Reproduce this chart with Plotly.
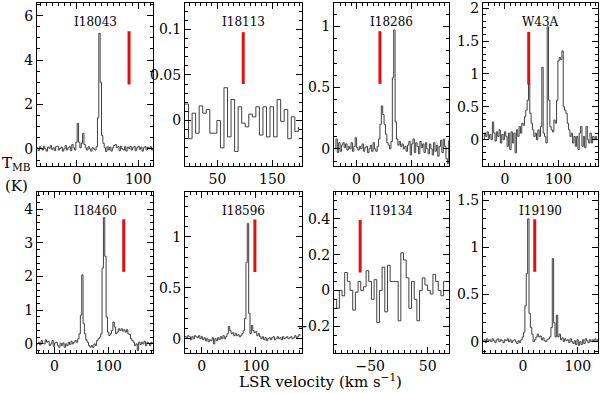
import plotly.graph_objects as go

W, H = 600, 393

names = ["I18043", "I18113", "I18286", "W43A", "I18460", "I18596", "I19134", "I19190"]

# channel grid (start velocity, channel width) per source
v_start = [-65.5, -9, -40, -41, -32, -31, -113, -74]
v_step = [2.2, 6.45, 2.5, 2.5, 2.5, 2.5, 4.65, 2.5]

t_i18043 = [0.05, -0.08, 0.1, 0.02, -0.05, 0.12, 0.0, -0.1, 0.08, 0.03, 0.15, -0.02, 0.05, -0.08, 0.1,
            0.12, -0.05, 0.02, 0.08, -0.1, 0.0, 0.15, -0.05, 0.05, 0.1, -0.08, 0.2, 0.05, -0.05,
            0.3, 1.15, 0.3, 0.05, 0.25, 0.7, 0.2, 0.05, -0.05, 0.1, 0.0, -0.1, 0.05, 0.0, -0.05, 0.1,
            1.4, 5.2, 3.0, 0.6, 0.25, 0.05, -0.12, 0.1, -0.05, 0.08, -0.1, 0.05, 0.15, 0.2, 0.05, 0.1,
            -0.08, 0.12, 0.0, -0.05, 0.1, -0.1, 0.08, 0.02, 0.12, -0.05, 0.05, 0.1, -0.08, 0.05, 0.12,
            -0.02, 0.08, -0.1, 0.05, 0.1, -0.05, 0.08, 0.0, 0.1, -0.05, 0.05]
t_i18113 = [0.018, -0.02, 0.008, -0.014, 0.016, 0.008, 0.012, -0.014, -0.014, 0.0, -0.03, 0.036,
            -0.018, 0.023, -0.034, 0.015, -0.003, -0.007, 0.007, 0.004, 0.015, -0.016, 0.015, -0.018,
            0.015, -0.018, 0.023, -0.001, 0.012, -0.02, 0.004, -0.012, -0.007]
t_i18286 = [0.0, 0.08, -0.03, 0.05, -0.02, 0.03, 0.05, 0.01, 0.04, -0.01, 0.02, 0.0, 0.05, -0.02, 0.02,
            0.09, 0.01, -0.01, 0.02, 0.0, 0.04, -0.02, 0.01, 0.02, -0.03, 0.0, 0.03, -0.02, 0.05, 0.0,
            -0.02, 0.02, 0.08, 0.2, 0.35, 0.28, 0.2, 0.12, 0.05, 0.03, 0.0, 0.06, 0.58, 0.97, 0.22, 0.08,
            0.03, 0.06, 0.02, 0.04, 0.0, 0.02, -0.02, 0.03, 0.06, -0.05, 0.04, 0.08, -0.03, 0.05, 0.02,
            -0.04, 0.06, 0.01, 0.04, -0.03, 0.05, 0.0, -0.04, 0.04, 0.0, -0.05, 0.05, -0.02, 0.03, -0.06,
            0.02, 0.07, -0.03, 0.08, 0.02, -0.08, -0.12, 0.07]
t_w43a = [0.0, 0.1, 0.05, 0.12, 0.02, 0.08, 0.0, 0.27, 0.1, -0.02, 0.12, 0.05, 0.15, -0.05, 0.08, 0.0,
          0.12, 0.05, -0.1, 0.1, -0.15, 0.12, -0.05, 0.1, -0.2, 0.15, 0.05, 0.2, 0.1, 0.25, 0.22, 0.35,
          0.45, 0.6, 0.85, 0.4, 0.25, 0.15, 0.05, 0.1, 0.0, 0.15, 0.05, 0.2, 1.1, 0.1, 0.05, -0.05, 1.72,
          0.6, 0.2, 0.15, 0.12, 0.3, 0.25, 0.6, 1.2, 1.25, 1.22, 1.35, 0.5, 0.45, 0.4, 0.25, 0.15, 0.05,
          0.1, -0.05, 0.05, -0.1, 0.05, -0.15, 0.1, 0.2, -0.1, 0.05, -0.12, 0.2, 0.0, -0.05, 0.1, -0.05,
          0.05, 0.0, 0.05, 0.0]
t_i18460 = [0.0, 0.05, -0.03, 0.1, 0.02, 0.0, 0.12, 0.05, 0.08, -0.05, 0.0, 0.1, -0.08, 0.03, 0.05,
            -0.05, -0.1, 0.02, -0.05, 0.03, -0.1, 0.0, -0.05, 0.05, -0.02, 0.08, 0.0, 0.05, 0.1, 0.05,
            0.15, 0.3, 0.85, 2.05, 0.6, 0.3, 0.12, 0.05, -0.05, -0.1, -0.05, -0.1, 0.0, -0.05, 0.1, 0.15,
            0.2, 0.3, 2.25, 3.75, 2.6, 0.8, 0.35, 0.25, 0.3, 0.4, 0.65, 0.5, 0.3, 0.35, 0.45, 0.4, 0.45,
            0.38, 0.42, 0.35, 0.42, 0.3, 0.28, 0.15, 0.1, 0.05, -0.05, 0.0, -0.2, 0.05, -0.02, 0.05, 0.0,
            0.08, -0.05, 0.05, 0.02, -0.05, 0.05, 0.0]
t_i18596 = [0.02, 0.0, 0.03, 0.02, -0.01, 0.02, 0.0, 0.03, 0.02, 0.01, 0.03, 0.0, 0.02, -0.01, 0.01,
            -0.02, 0.0, -0.03, -0.01, -0.02, 0.01, -0.05, 0.0, -0.02, 0.01, -0.01, 0.02, 0.0, 0.03, 0.0,
            0.02, 0.05, 0.12, 0.08, 0.05, 0.06, 0.03, 0.05, 0.03, 0.04, 0.02, 0.03, 0.05, 0.08, 0.2, 0.75,
            1.13, 0.25, 0.05, 0.13, 0.08, 0.06, 0.07, 0.03, 0.05, 0.02, 0.0, 0.02, -0.01, 0.01, -0.02,
            0.0, 0.01, -0.01, 0.01, 0.02, -0.01, 0.0, 0.02, 0.0, 0.01, -0.01, 0.02, 0.0, 0.01, 0.02, 0.0,
            0.01, 0.02, 0.0, 0.01, 0.03, 0.01, 0.02, 0.04, 0.03]
t_i19134 = [-0.05, -0.1, 0.0, -0.03, 0.1, 0.05, 0.0, -0.11, -0.01, 0.05, 0.0, 0.02, 0.11, 0.05, -0.05,
            0.06, -0.18, 0.0, 0.13, -0.12, 0.14, 0.05, 0.05, 0.05, -0.17, 0.21, 0.17, 0.07, -0.1, 0.05,
            -0.05, -0.17, 0.0, 0.07, 0.03, 0.0, -0.02, 0.09, 0.05, 0.0, -0.03, 0.05, 0.05]
t_i19190 = [0.0, 0.02, -0.01, 0.03, 0.01, 0.02, 0.0, 0.03, 0.01, -0.01, 0.02, 0.03, 0.0, 0.02, 0.01,
            -0.01, 0.02, 0.01, 0.03, 0.0, 0.02, -0.01, 0.01, 0.02, 0.0, -0.02, 0.01, -0.01, 0.02, 0.05,
            0.1, 0.38, 0.72, 1.3, 0.3, 0.15, 0.08, 0.0, 0.02, 0.05, 0.08, 0.05, 0.06, 0.02, 0.04, 0.01,
            0.0, 0.02, 0.03, 0.05, 0.15, 0.88, 0.2, 0.05, 0.28, 0.05, 0.08, 0.02, 0.04, 0.0, 0.03, 0.01,
            0.02, -0.01, 0.03, 0.0, -0.02, 0.01, -0.03, 0.02, -0.04, 0.0, -0.03, 0.02, -0.02, 0.03, 0.01,
            -0.01, 0.02, 0.0, 0.02, 0.01, 0.03, 0.0, 0.02, 0.01]
spectra = [t_i18043, t_i18113, t_i18286, t_w43a, t_i18460, t_i18596, t_i19134, t_i19190]

# red markers: velocity and vertical extent
red_v = [85, 97, 42.5, 44.5, 128, 98, -67.5, 21.5]
red_lo = [2.9, 0.04, 0.53, 0.84, 2.14, 0.655, 0.10, 0.74]
red_hi = [5.3, 0.097, 0.96, 1.64, 3.70, 1.17, 0.394, 1.296]

# axis settings
x_ranges = [[-65, 124], [-9, 204], [-41, 168], [-41, 174], [-32, 182], [-31, 185], [-113, 87], [-73, 137]]
x_labels = [[0, 100], [50, 150], [0, 100], [0, 100], [0, 100], [0, 100], [-50, 50], [0, 100]]
x_label_text = [["0", "100"], ["50", "150"], ["0", "100"], ["0", "100"], ["0", "100"], ["0", "100"],
                ["\u221250", "50"], ["0", "100"]]
y_ranges = [[-0.77, 6.57], [-0.05, 0.129], [-0.14, 1.19], [-0.4, 2.08],
            [-0.27, 4.51], [-0.14, 1.44], [-0.35, 0.55], [-0.12, 1.585]]
y_labels = [[0, 2, 4, 6], [0, 0.05, 0.1], [0, 0.5, 1], [0, 0.5, 1, 1.5, 2],
            [0, 1, 2, 3, 4], [0, 0.5, 1], [-0.2, 0, 0.2, 0.4], [0, 0.5, 1, 1.5]]
y_label_text = [["0", "2", "4", "6"], ["0", "0.05", "0.1"], ["0", "0.5", "1"],
                ["0", "0.5", "1", "1.5", "2"], ["0", "1", "2", "3", "4"], ["0", "0.5", "1"],
                ["\u22120.2", "0", "0.2", "0.4"], ["0", "0.5", "1", "1.5"]]
y_minor = [0.5, 0.01, 0.1, 0.1, 0.2, 0.1, 0.05, 0.1]

# pixel layout of the panels
col_px = [(37, 153), (185, 302), (334, 449), (483, 598)]
row_px = [(3, 166), (192, 353)]

FONT = "DejaVu Serif"
LINE = "#404040"

fig = go.Figure()
layout = dict(width=W, height=H, margin=dict(l=0, r=0, t=0, b=0),
              paper_bgcolor="white", plot_bgcolor="white", showlegend=False,
              font=dict(family=FONT, size=12, color="black"))
annotations = []

for k in range(8):
    r, c = divmod(k, 4)
    n = "" if k == 0 else str(k + 1)
    x0, x1 = col_px[c]
    yt, yb = row_px[r]
    xd = [x0 / W, x1 / W]
    yd = [1 - yb / H, 1 - yt / H]
    vals = spectra[k]
    vel = [v_start[k] + v_step[k] * i for i in range(len(vals))]
    fig.add_trace(go.Scatter(x=vel, y=vals, mode="lines", line=dict(color=LINE, width=1, shape="hv"),
                             xaxis="x" + n, yaxis="y" + n, hoverinfo="skip"))
    fig.add_trace(go.Scatter(x=[red_v[k], red_v[k]], y=[red_lo[k], red_hi[k]], mode="lines",
                             line=dict(color="#e01010", width=3), xaxis="x" + n, yaxis="y" + n,
                             hoverinfo="skip"))
    layout["xaxis" + n] = dict(domain=xd, anchor="y" + n, range=x_ranges[k], showgrid=False,
                               zeroline=False, showline=True, linecolor="black", linewidth=1,
                               mirror="allticks", ticks="inside", ticklen=6, tickcolor="black",
                               tickmode="array", tickvals=x_labels[k], ticktext=x_label_text[k],
                               tickfont=dict(family=FONT, size=14),
                               minor=dict(dtick=10, tick0=0, ticklen=3, ticks="inside",
                                          tickcolor="black", showgrid=False),
                               automargin=False, fixedrange=True)
    layout["yaxis" + n] = dict(domain=yd, anchor="x" + n, range=y_ranges[k], showgrid=False,
                               zeroline=False, showline=True, linecolor="black", linewidth=1,
                               mirror="allticks", ticks="inside", ticklen=6, tickcolor="black",
                               tickmode="array", tickvals=y_labels[k], ticktext=y_label_text[k],
                               tickfont=dict(family=FONT, size=14),
                               minor=dict(dtick=y_minor[k], tick0=0, ticklen=3, ticks="inside",
                                          tickcolor="black", showgrid=False),
                               automargin=False, fixedrange=True)
    annotations.append(dict(text=names[k], x=(xd[0] + xd[1]) / 2, y=1 - (yt + 19) / H,
                            xref="paper", yref="paper", showarrow=False, xanchor="center",
                            yanchor="middle", font=dict(family=FONT, size=12, color="black")))

annotations.append(dict(text="T<sub>MB</sub>", x=16 / W, y=1 - 164 / H, xref="paper", yref="paper",
                        showarrow=False, xanchor="center", yanchor="middle",
                        font=dict(family=FONT, size=15, color="black")))
annotations.append(dict(text="(K)", x=16 / W, y=1 - 186 / H, xref="paper", yref="paper",
                        showarrow=False, xanchor="center", yanchor="middle",
                        font=dict(family=FONT, size=15, color="black")))
annotations.append(dict(text="LSR velocity (km s<sup>\u22121</sup>)", x=320 / W, y=1 - 381 / H,
                        xref="paper", yref="paper", showarrow=False, xanchor="center",
                        yanchor="middle", font=dict(family=FONT, size=15, color="black")))
layout["annotations"] = annotations
fig.update_layout(**layout)
fig.write_html("out.html", config={"displayModeBar": False},
               post_script="document.body.style.margin='0';document.body.style.overflow='hidden';")
